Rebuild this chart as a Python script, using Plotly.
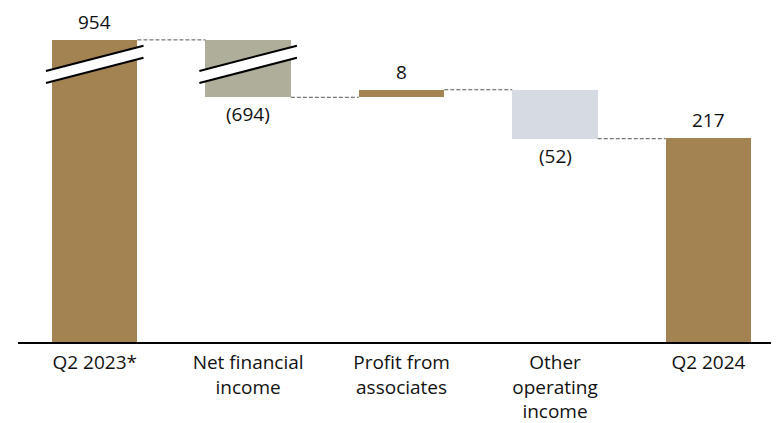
import plotly.graph_objects as go

# ---- data ----
categories = ["Q2 2023*", "Net financial<br>income", "Profit from<br>associates",
              "Other<br>operating<br>income", "Q2 2024"]
values = [954, -694, 8, -52, 217]
measures = ["absolute", "relative", "relative", "relative", "total"]
value_labels = ["954", "(694)", "8", "(52)", "217"]
bar_colors = ["#A38352", "#AFAE9B", "#A38352", "#D6DAE3", "#A38352"]

# ---- broken-axis display settings ----
BREAK_THRESHOLD = 600   # values above this are shown compressed
BREAK_GAP = 633         # amount removed from the axis at the break
BREAK_CENTER = 295      # display level of the break marks
BAR_WIDTH = 0.557

def disp(v):
    return v - BREAK_GAP if v > BREAK_THRESHOLD else v

# compute waterfall extents
bottoms, tops, ends = [], [], []
running = 0
for m, v in zip(measures, values):
    if m in ("absolute", "total"):
        b, t = 0, v
        running = v
    else:
        start, end = running, running + v
        b, t = min(start, end), max(start, end)
        running = end
    bottoms.append(b)
    tops.append(t)
    ends.append(running)

xs = list(range(len(categories)))
d_bottom = [disp(b) for b in bottoms]
d_top = [disp(t) for t in tops]

fig = go.Figure()
fig.add_trace(go.Bar(
    x=xs, base=d_bottom, y=[t - b for t, b in zip(d_top, d_bottom)],
    width=BAR_WIDTH, marker=dict(color=bar_colors, line=dict(width=0)),
    hoverinfo="skip", showlegend=False,
))

shapes = []
# connectors
for i in range(len(xs) - 1):
    lvl = disp(ends[i])
    shapes.append(dict(type="line", xref="x", yref="y",
                       x0=xs[i] + BAR_WIDTH / 2, x1=xs[i + 1] - BAR_WIDTH / 2,
                       y0=lvl, y1=lvl,
                       line=dict(color="#555555", width=1, dash="4px,2px")))

# break marks on bars that cross the break
half = 0.318
rise = 13.4
sep = 6.4
for i, t in enumerate(tops):
    if t > BREAK_THRESHOLD:
        x0, x1 = xs[i] - half, xs[i] + half
        ylo0, ylo1 = BREAK_CENTER - rise - sep, BREAK_CENTER + rise - sep
        yhi0, yhi1 = BREAK_CENTER - rise + sep, BREAK_CENTER + rise + sep
        shapes.append(dict(type="path", xref="x", yref="y",
                           path=f"M {x0},{ylo0} L {x1},{ylo1} L {x1},{yhi1} L {x0},{yhi0} Z",
                           fillcolor="white", line=dict(width=0)))
        for (ya, yb) in ((ylo0, ylo1), (yhi0, yhi1)):
            shapes.append(dict(type="line", xref="x", yref="y",
                               x0=x0, x1=x1, y0=ya, y1=yb,
                               line=dict(color="black", width=2)))

annotations = []
for i, lab in enumerate(value_labels):
    if values[i] >= 0:
        y, shift = d_top[i], 18
    else:
        y, shift = d_bottom[i], -17
    annotations.append(dict(x=xs[i], y=y, xref="x", yref="y", text=lab,
                            showarrow=False, yshift=shift, yanchor="middle",
                            font=dict(family="Open Sans", size=19, color="#111111")))

fig.update_layout(
    width=771, height=415,
    margin=dict(l=10, r=0, t=14, b=81),
    paper_bgcolor="white", plot_bgcolor="white",
    shapes=shapes, annotations=annotations,
    bargap=0,
    font=dict(family="Open Sans", size=19, color="#111111"),
    xaxis=dict(range=[-0.5, 4.46], tickvals=xs, ticktext=categories,
               showline=True, linecolor="black", linewidth=2,
               showgrid=False, zeroline=False, ticks="", fixedrange=True,
               ticklabelstandoff=2),
    yaxis=dict(range=[0, 340], visible=False, showgrid=False, zeroline=False,
               fixedrange=True),
)

fig.write_html("out.html")
